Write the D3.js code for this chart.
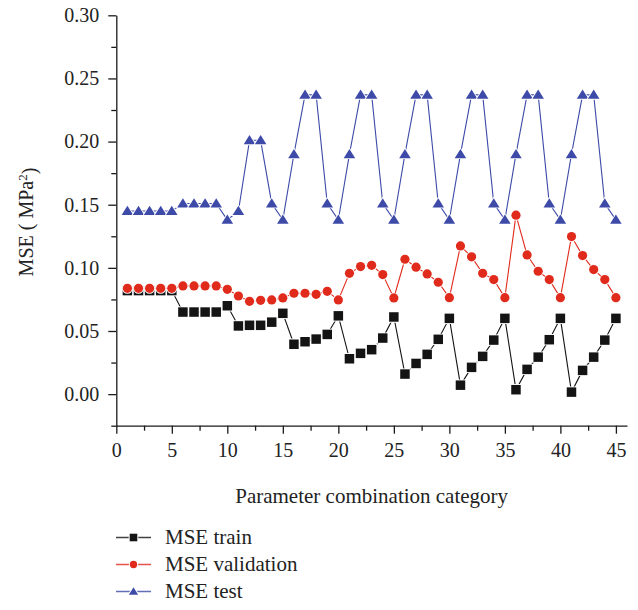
<!DOCTYPE html>
<html>
<head>
<meta charset="utf-8">
<script src="https://cdn.jsdelivr.net/npm/d3@7"></script>
<style>
  html, body { margin: 0; padding: 0; background: #fff; }
  svg { display: block; }
  svg text { font-family: "Liberation Serif", "DejaVu Serif", "Noto Serif", "Times New Roman", Times, serif; }
</style>
</head>
<body>
<svg id="chart" width="638" height="610"></svg>
<script>
// Parameter combination categories 1..45
const categories = d3.range(1, 46);

const mseTrain = [
  0.082, 0.082, 0.082, 0.082, 0.082,
  0.065, 0.065, 0.065, 0.065, 0.070,
  0.054, 0.0545, 0.0545, 0.057, 0.064,
  0.0395, 0.0415, 0.0436, 0.0473, 0.062,
  0.028, 0.0323, 0.0352, 0.0444, 0.0611,
  0.0159, 0.0243, 0.0315, 0.0434, 0.060,
  0.0071, 0.0212, 0.0299, 0.0428, 0.060,
  0.0035, 0.0196, 0.0293, 0.0431, 0.060,
  0.0016, 0.0188, 0.0293, 0.0428, 0.060
];

const mseValidation = [
  0.0838, 0.0838, 0.0838, 0.0838, 0.0838,
  0.0857, 0.0857, 0.0857, 0.0857, 0.083,
  0.0777, 0.0735, 0.0743, 0.0746, 0.0762,
  0.0799, 0.0799, 0.079, 0.0814, 0.0746,
  0.0957, 0.101, 0.102, 0.0947, 0.0762,
  0.1068, 0.1005, 0.0952, 0.0886, 0.0764,
  0.1174, 0.1087, 0.0957, 0.0907, 0.0764,
  0.1417, 0.1102, 0.0973, 0.0907, 0.0764,
  0.1248, 0.1097, 0.0986, 0.0907, 0.0764
];

const mseTest = [
  0.145, 0.145, 0.145, 0.145, 0.145,
  0.151, 0.151, 0.151, 0.151, 0.138,
  0.145, 0.201, 0.201, 0.151, 0.138,
  0.190, 0.237, 0.237, 0.151, 0.138,
  0.190, 0.237, 0.237, 0.151, 0.138,
  0.190, 0.237, 0.237, 0.151, 0.138,
  0.190, 0.237, 0.237, 0.151, 0.138,
  0.190, 0.237, 0.237, 0.151, 0.138,
  0.190, 0.237, 0.237, 0.151, 0.138
];

const xTicks = [0, 5, 10, 15, 20, 25, 30, 35, 40, 45];
const yTicks = [0.00, 0.05, 0.10, 0.15, 0.20, 0.25, 0.30];
const seriesNames = ["MSE train", "MSE validation", "MSE test"];

const colors = { train: "#141414", validation: "#e02b1c", test: "#3d4aa8" };
const serif = "'Liberation Serif', 'DejaVu Serif', 'Noto Serif', serif";

const svg = d3.select("#chart");

const x = d3.scaleLinear().domain([0, 46]).range([116.3, 627]);
const y = d3.scaleLinear().domain([-0.025, 0.30]).range([425.7, 15.3]);

// Axes with major and minor ticks
const axisColor = "#1a1a1a";
const gx = svg.append("g").attr("transform", `translate(0,${y.range()[0]})`);
gx.call(d3.axisBottom(x).tickValues(d3.range(2.5, 46, 5)).tickSize(5).tickFormat(""));
gx.call(g => g.selectAll(".domain").remove());
const gxMaj = svg.append("g").attr("transform", `translate(0,${y.range()[0]})`);
gxMaj.call(d3.axisBottom(x).tickValues(xTicks).tickSize(8).tickSizeOuter(0).tickPadding(5).tickFormat(d3.format("d")));

const gy = svg.append("g").attr("transform", `translate(${x.range()[0]},0)`);
gy.call(d3.axisLeft(y).tickValues([-0.025, 0.025, 0.075, 0.125, 0.175, 0.225, 0.275]).tickSize(5).tickFormat(""));
gy.call(g => g.selectAll(".domain").remove());
const gyMaj = svg.append("g").attr("transform", `translate(${x.range()[0]},0)`);
gyMaj.call(d3.axisLeft(y).tickValues(yTicks).tickSize(8).tickSizeOuter(0).tickPadding(9).tickFormat(d3.format(".2f")));

svg.selectAll("g").attr("font-family", serif);
svg.selectAll(".domain, .tick line").attr("stroke", axisColor).attr("stroke-width", 1.3);
svg.selectAll(".tick text")
  .attr("fill", "#222")
  .style("font-family", serif)
  .style("font-size", "20px");
gxMaj.selectAll(".tick text").attr("dy", "0.9em");

// Axis titles
svg.append("text")
  .attr("x", (x.range()[0] + x.range()[1]) / 2)
  .attr("y", 503)
  .attr("text-anchor", "middle")
  .attr("fill", "#222")
  .style("font-family", serif)
  .style("font-size", "21px")
  .text("Parameter combination category");

const yTitle = svg.append("text")
  .attr("transform", "translate(33,222) rotate(-90)")
  .attr("text-anchor", "middle")
  .attr("fill", "#222")
  .style("font-family", serif)
  .style("font-size", "20px");
yTitle.append("tspan").text("MSE ( MPa");
yTitle.append("tspan").attr("dy", "-0.45em").style("font-size", "13px").text("2");
yTitle.append("tspan").attr("dy", "0.45em").text(")");

// Marker shapes
const markers = {
  square: s => `M${-s / 2},${-s / 2}h${s}v${s}h${-s}Z`,
  circle: s => `M${-s / 2},0a${s / 2},${s / 2} 0 1,0 ${s},0a${s / 2},${s / 2} 0 1,0 ${-s},0Z`,
  triangle: s => `M0,${-s * 0.5}L${s * 0.55},${s * 0.38}L${-s * 0.55},${s * 0.38}Z`
};

const series = [
  { name: seriesNames[0], values: mseTrain, color: colors.train, shape: "square", size: 9.5 },
  { name: seriesNames[1], values: mseValidation, color: colors.validation, shape: "circle", size: 9.2 },
  { name: seriesNames[2], values: mseTest, color: colors.test, shape: "triangle", size: 10.5 }
];

const line = d3.line().x((d, i) => x(categories[i])).y(d => y(d));

series.forEach(s => {
  const g = svg.append("g");
  g.append("path")
    .attr("d", line(s.values))
    .attr("fill", "none")
    .attr("stroke", s.color)
    .attr("stroke-width", 1.1);
  g.selectAll("path.mk")
    .data(s.values)
    .join("path")
    .attr("class", "mk")
    .attr("transform", (d, i) => `translate(${x(categories[i])},${y(d)})`)
    .attr("d", markers[s.shape](s.size))
    .attr("fill", s.color)
    .attr("stroke", "#fff")
    .attr("stroke-width", 1.8)
    .attr("paint-order", "stroke");
});

// Legend
const legend = svg.append("g");
series.forEach((s, i) => {
  const cy = 537.5 + i * 27;
  legend.append("line")
    .attr("x1", 116).attr("x2", 151).attr("y1", cy).attr("y2", cy)
    .attr("stroke", s.color).attr("stroke-width", 1.3).attr("opacity", 0.8);
  legend.append("path")
    .attr("transform", `translate(133.5,${cy})`)
    .attr("d", markers[s.shape](s.size * 0.8))
    .attr("fill", s.color)
    .attr("stroke", "#fff")
    .attr("stroke-width", 2)
    .attr("paint-order", "stroke");
  legend.append("text")
    .attr("x", 165)
    .attr("y", cy)
    .attr("dy", "0.33em")
    .attr("fill", "#222")
    .style("font-family", serif)
    .style("font-size", "21px")
    .text(s.name);
});
</script>
</body>
</html>
